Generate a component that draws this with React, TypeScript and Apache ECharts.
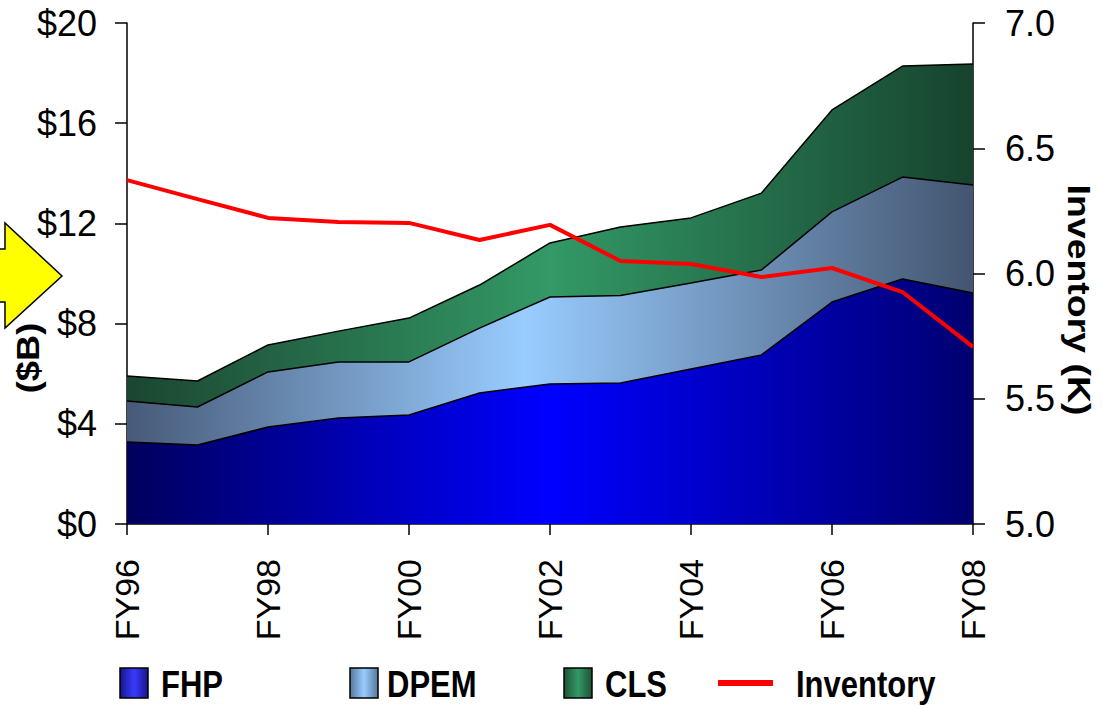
import React, { useEffect, useRef } from 'react';
import * as echarts from 'echarts';

const categories = ['FY96', 'FY97', 'FY98', 'FY99', 'FY00', 'FY01', 'FY02', 'FY03', 'FY04', 'FY05', 'FY06', 'FY07', 'FY08'];
const fhp = [3.27, 3.15, 3.87, 4.23, 4.35, 5.23, 5.59, 5.63, 6.19, 6.75, 8.86, 9.78, 9.22];
const dpem = [1.64, 1.52, 2.2, 2.24, 2.12, 2.59, 3.47, 3.49, 3.43, 3.39, 3.6, 4.07, 4.31];
const cls = [1.0, 1.04, 1.08, 1.23, 1.75, 1.72, 2.16, 2.74, 2.6, 3.07, 4.07, 4.43, 4.83];
const inventory = [6.373, 6.297, 6.222, 6.206, 6.202, 6.134, 6.194, 6.05, 6.038, 5.986, 6.022, 5.926, 5.707];
const seriesNames = ['FHP', 'DPEM', 'CLS', 'Inventory'];
const leftAxisTitle = '($B)';
const rightAxisTitle = 'Inventory (K)';

const FONT = '"Liberation Sans", Arial, sans-serif';

function hGrad(stops: [number, string][]) {
  return new echarts.graphic.LinearGradient(
    0, 0, 1, 0,
    stops.map(([offset, color]) => ({ offset, color }))
  );
}

export default function App() {
  const ref = useRef<HTMLDivElement>(null);
  useEffect(() => {
    const chart = echarts.init(ref.current!, null, { renderer: 'svg' });

    const areaFills = [
      hGrad([[0, '#00005c'], [0.5, '#0000ff'], [1, '#000070']]),
      hGrad([[0, '#475a78'], [0.47, '#99ccff'], [1, '#435570']]),
      hGrad([[0, '#1b4631'], [0.5, '#339966'], [1, '#16432e']]),
    ];
    const legendFills = [
      hGrad([[0, '#16168c'], [0.5, '#3a3aff'], [1, '#16168c']]),
      hGrad([[0, '#56789c'], [0.5, '#99ccff'], [1, '#56789c']]),
      hGrad([[0, '#1d5236'], [0.5, '#339966'], [1, '#1d5236']]),
    ];
    const legendRectX = [120, 350, 564];
    const legendTextX = [161, 387, 605, 796];
    const legendY = 683;

    const legendGraphics: any[] = [];
    for (let i = 0; i < 3; i++) {
      legendGraphics.push({
        type: 'rect',
        shape: { x: legendRectX[i], y: legendY - 15, width: 28, height: 30 },
        style: { fill: legendFills[i], stroke: '#000', lineWidth: 1.5 },
      });
    }
    legendGraphics.push({
      type: 'line',
      shape: { x1: 718, y1: legendY, x2: 773, y2: legendY },
      style: { stroke: '#ff0000', lineWidth: 6 },
    });
    seriesNames.forEach((name, i) => {
      legendGraphics.push({
        type: 'text',
        x: legendTextX[i],
        y: legendY + 1,
        scaleY: 1.2,
        style: {
          text: name,
          fill: '#000',
          fontSize: 31,
          fontWeight: 'bold',
          fontFamily: FONT,
          align: 'left',
          verticalAlign: 'middle',
        },
      });
    });

    const areaSeries = [fhp, dpem, cls].map((data, i) => ({
      name: seriesNames[i],
      type: 'line',
      stack: 'total',
      data,
      symbol: 'none',
      lineStyle: { color: '#000', width: 1.5 },
      areaStyle: { color: areaFills[i], opacity: 1 },
      z: 2,
    }));

    chart.setOption({
      animation: false,
      grid: { left: 127, right: 129, top: 23, bottom: 181, containLabel: false },
      xAxis: {
        type: 'category',
        data: categories,
        boundaryGap: false,
        axisLine: { show: true, lineStyle: { color: '#000', width: 1.5 } },
        axisTick: { show: true, interval: 1, length: 11, lineStyle: { color: '#000', width: 1.5 } },
        axisLabel: {
          interval: 1,
          rotate: 90,
          margin: 35,
          color: '#000',
          fontSize: 34,
          fontFamily: FONT,
        },
        splitLine: { show: false },
      },
      yAxis: [
        {
          type: 'value',
          min: 0,
          max: 20,
          interval: 4,
          position: 'left',
          axisLine: { show: true, lineStyle: { color: '#000', width: 1.5 } },
          axisTick: { show: true, length: 12, lineStyle: { color: '#000', width: 1.5 } },
          axisLabel: {
            formatter: (v: number) => '$' + v,
            margin: 30,
            color: '#000',
            fontSize: 36,
            fontFamily: FONT,
          },
          splitLine: { show: false },
        },
        {
          type: 'value',
          min: 5,
          max: 7,
          interval: 0.5,
          position: 'right',
          axisLine: { show: true, lineStyle: { color: '#000', width: 1.5 } },
          axisTick: { show: true, length: 12, lineStyle: { color: '#000', width: 1.5 } },
          axisLabel: {
            formatter: (v: number) => v.toFixed(1),
            margin: 32,
            color: '#000',
            fontSize: 36,
            fontFamily: FONT,
          },
          splitLine: { show: false },
        },
      ],
      series: [
        ...areaSeries,
        {
          name: seriesNames[3],
          type: 'line',
          yAxisIndex: 1,
          data: inventory,
          symbol: 'none',
          lineStyle: { color: '#ff0000', width: 4 },
          z: 5,
        },
      ],
      graphic: [
        {
          type: 'polygon',
          shape: { points: [[-10, 249], [5, 249], [5, 223], [62, 276], [5, 328], [5, 302], [-10, 302]] },
          style: { fill: '#ffff00', stroke: '#000', lineWidth: 1.5 },
        },
        {
          type: 'text',
          x: 28,
          y: 358,
          rotation: Math.PI / 2,
          scaleX: 1.17,
          style: {
            text: leftAxisTitle,
            fill: '#000',
            fontSize: 31,
            fontWeight: 'bold',
            fontFamily: FONT,
            align: 'center',
            verticalAlign: 'middle',
          },
        },
        {
          type: 'text',
          x: 1079,
          y: 300,
          rotation: -Math.PI / 2,
          scaleX: 1.17,
          style: {
            text: rightAxisTitle,
            fill: '#000',
            fontSize: 32,
            fontWeight: 'bold',
            fontFamily: FONT,
            align: 'center',
            verticalAlign: 'middle',
          },
        },
        ...legendGraphics,
      ],
    });
    return () => chart.dispose();
  }, []);
  return <div ref={ref} style={{ position: 'absolute', left: 0, top: 0, width: 1102, height: 705 }} />;
}
